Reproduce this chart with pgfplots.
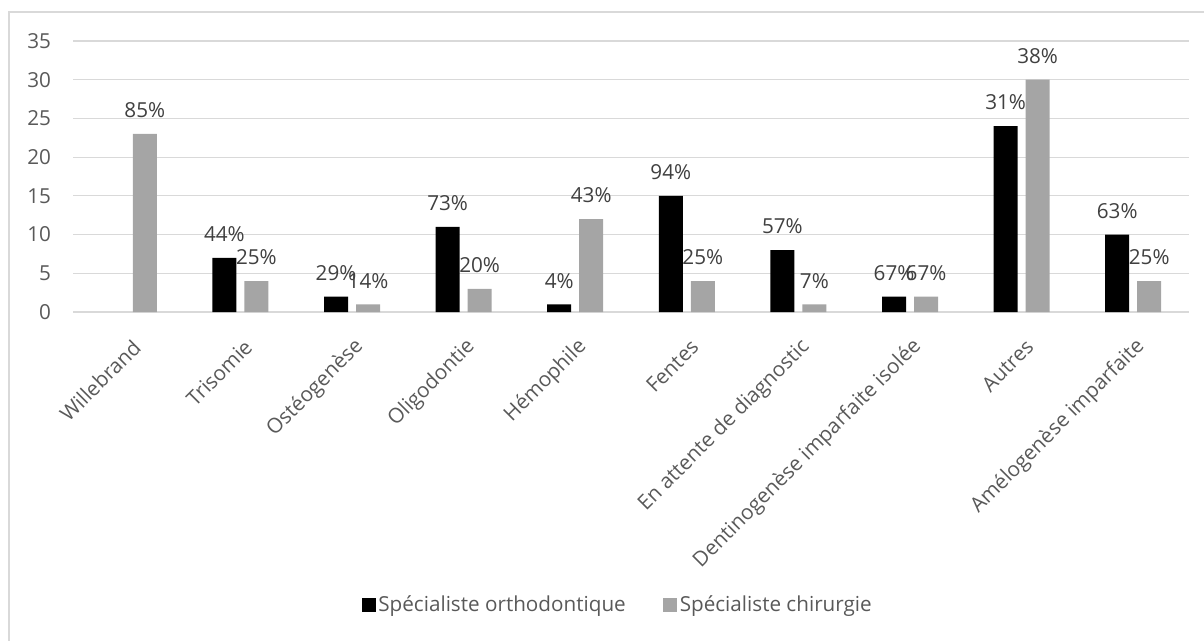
\documentclass[border=0pt]{standalone}
\usepackage{fontspec}
\setmainfont{Open Sans}
\usepackage{pgfplots}
\pgfplotsset{compat=1.18}
\definecolor{gridgray}{HTML}{D9D9D9}
\definecolor{txtgray}{HTML}{595959}
\definecolor{lblgray}{HTML}{404040}
\definecolor{bargray}{HTML}{A5A5A5}

\begin{document}
\begin{tikzpicture}
\path[use as bounding box] (0,0) rectangle (903pt,-480.75pt);
\draw[gridgray, line width=0.9pt] (6.75pt,-481pt) -- (6.75pt,-9pt) -- (904pt,-9pt);
\begin{axis}[
  at={(54.75pt,-234pt)}, anchor=south west,
  width=837pt, height=203.25pt, scale only axis,
  ybar=6pt, bar width=18pt,
  xmin=-0.5, xmax=9.5, ymin=0, ymax=35,
  xtick={0,...,9},
  xticklabels={Willebrand, Trisomie, Ostéogenèse, Oligodontie, Hémophile, Fentes,
    En attente de diagnostic, Dentinogenèse imparfaite isolée, Autres, Amélogenèse imparfaite},
  ytick={0,5,...,35},
  axis line style={draw=none},
  major tick style={draw=none},
  ymajorgrids, grid style={gridgray, line width=0.9pt},
  tick label style={txtgray, font=\fontsize{15.5}{18}\selectfont},
  /pgf/number format/assume math mode=true,
  yticklabel style={xshift=-13pt},
  xticklabel style={rotate=45, anchor=east, xshift=-6pt, yshift=-18pt},
  nodes near coords, point meta=explicit symbolic,
  every node near coord/.append style={lblgray, font=\fontsize{15.5}{18}\selectfont, yshift=8.5pt},
  legend columns=2,
  legend style={at={(0.4884,-1.081)}, anchor=center, draw=none, fill=none,
    text=txtgray, font=\fontsize{15.5}{18}\selectfont,
    /tikz/every even column/.append style={column sep=26pt}},
  legend image code/.code={\fill (0pt,-5.25pt) rectangle (10.5pt,5.25pt);},
]
\addplot[fill=black, draw=none] coordinates {
  (1,7) [44\%] (2,2) [29\%] (3,11) [73\%] (4,1) [4\%] (5,15) [94\%]
  (6,8) [57\%] (7,2) [67\%] (8,24) [31\%] (9,10) [63\%]
};
\addplot[fill=bargray, draw=none] coordinates {
  (0,23) [85\%] (1,4) [25\%] (2,1) [14\%] (3,3) [20\%] (4,12) [43\%] (5,4) [25\%]
  (6,1) [7\%] (7,2) [67\%] (8,30) [38\%] (9,4) [25\%]
};
\legend{Spécialiste orthodontique, Spécialiste chirurgie}
\end{axis}
\end{tikzpicture}
\end{document}
